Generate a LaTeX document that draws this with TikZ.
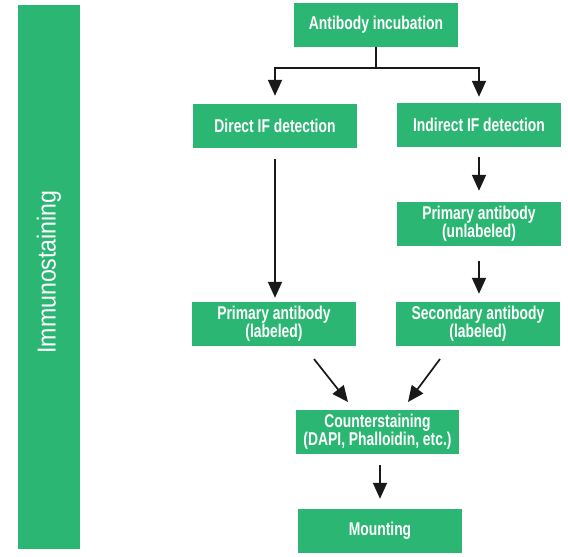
\documentclass[tikz,border=0pt]{standalone}
\usepackage{fontspec}
\setmainfont{Liberation Sans}[FakeStretch=0.75]
\newfontfamily\barfont{Liberation Sans}[FakeStretch=0.89]
\usetikzlibrary{arrows.meta}
\definecolor{boxgreen}{RGB}{43,182,115}
\begin{document}
\begin{tikzpicture}[x=1pt,y=-1pt,
  stepbox/.style={fill=boxgreen, text=white, draw=none, inner sep=0pt,
    minimum width=164pt, minimum height=44pt, align=center,
    font=\bfseries\fontsize{18.5}{18}\selectfont},
  arr/.style={line width=1.7pt, draw=black!90, -{Triangle[width=14pt,length=16pt]}},
  plain/.style={line width=1.7pt, draw=black!90}]
\useasboundingbox (0,0) rectangle (568,557);
\node[fill=boxgreen, minimum width=62pt, minimum height=544pt, inner sep=0pt] (bar) at (49,277) {};
\node[text=white, rotate=90, font=\barfont\fontsize{26}{28}\selectfont] (bartext) at (49,272) {Immunostaining};
\node[stepbox] (inc) at (376,25) {Antibody incubation};
\node[stepbox] (dir) at (275,126) {Direct IF detection};
\node[stepbox] (ind) at (479,125) {Indirect IF detection};
\node[stepbox] (pu) at (479,224) {Primary antibody\\(unlabeled)};
\node[stepbox] (pl) at (274,324) {Primary antibody\\(labeled)};
\node[stepbox] (sec) at (478,324) {Secondary antibody\\(labeled)};
\node[stepbox, minimum width=163pt] (cs) at (377.5,432) {Counterstaining\\(DAPI, Phalloidin, etc.)};
\node[stepbox] (mt) at (380,531) {Mounting};
\coordinate (split) at (376,68);
\coordinate (l1) at (314,359);
\coordinate (l2) at (348,402);
\coordinate (r1) at (440,359);
\coordinate (r2) at (408,402);
\draw[plain] (inc.south) -- (split);
\draw[arr, shorten >=8pt] (split) -| (dir.north);
\draw[arr, shorten >=6pt] (split) -| (ind.north);
\draw[arr, shorten <=11pt, shorten >=4pt] (dir.south) -- (dir.south |- pl.north);
\draw[arr, shorten <=10pt, shorten >=11pt] (ind.south) -- (ind.south |- pu.north);
\draw[arr, shorten <=15pt, shorten >=8pt] (pu.south) -- (pu.south |- sec.north);
\draw[arr] (l1) -- (l2);
\draw[arr] (r1) -- (r2);
\draw[arr, shorten <=11pt, shorten >=10pt] (cs.south -| mt.north) -- (mt.north);
\end{tikzpicture}
\end{document}
